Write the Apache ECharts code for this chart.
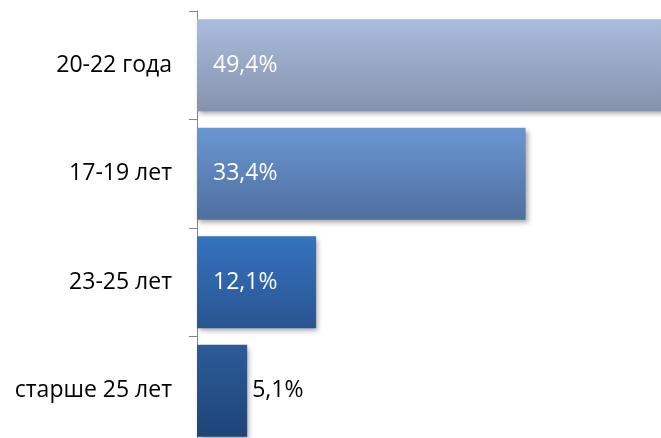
<!DOCTYPE html>
<html>
<head>
<meta charset="utf-8">
<script src="https://cdn.jsdelivr.net/npm/echarts@6/dist/echarts.min.js"></script>
<style>
  html, body { margin: 0; padding: 0; background: #fff; }
  #chart { width: 661px; height: 438px; }
</style>
</head>
<body>
<div id="chart"></div>
<script>
// возрастные группы, сверху вниз
var categories = ['20-22 года', '17-19 лет', '23-25 лет', 'старше 25 лет'];
var values = [49.4, 33.4, 12.1, 5.1];

// градиент каждой полосы: верх / низ
var topColors = ['#aabcdd', '#6a96d2', '#3473bf', '#2c5b98'];
var bottomColors = ['#8592ad', '#4f6f9f', '#2a5592', '#1f4478'];

var myChart = echarts.init(document.getElementById('chart'));

var data = values.map(function (v, i) {
    var small = v < 8;
    return {
        value: v,
        itemStyle: {
            color: new echarts.graphic.LinearGradient(0, 0, 0, 1, [
                {offset: 0, color: topColors[i]},
                {offset: 1, color: bottomColors[i]}
            ])
        },
        label: small ? {position: 'right', distance: 5, color: '#000'}
                     : {position: 'insideLeft', distance: 16, color: '#fff'}
    };
});

var option = {
    animation: false,
    grid: {left: 197, top: 11, width: 492, height: 434, outerBoundsMode: 'none'},
    xAxis: {
        type: 'value',
        min: 0,
        max: 50,
        show: false
    },
    yAxis: {
        type: 'category',
        inverse: true,
        data: categories,
        axisLine: {lineStyle: {color: '#868686', width: 1}},
        axisTick: {show: true, length: 8, lineStyle: {color: '#868686'}},
        axisLabel: {
            color: '#000',
            fontSize: 23,
            fontFamily: 'Open Sans',
            margin: 25,
            padding: [7, 0, 0, 0]
        }
    },
    series: [{
        type: 'bar',
        barCategoryGap: '15%',
        data: data,
        itemStyle: {
            shadowColor: 'rgba(0,0,0,0.35)',
            shadowBlur: 5,
            shadowOffsetX: 2,
            shadowOffsetY: 3
        },
        label: {
            show: true,
            fontSize: 23,
            fontFamily: 'Open Sans',
            padding: [6, 0, 0, 0],
            formatter: function (p) {
                return String(p.value).replace('.', ',') + '%';
            }
        }
    }]
};

myChart.setOption(option);
</script>
</body>
</html>
